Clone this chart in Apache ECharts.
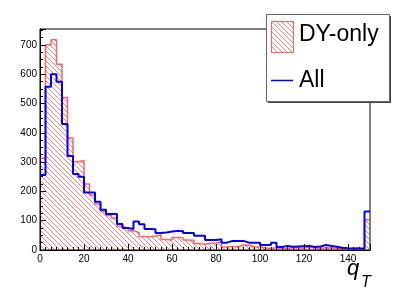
<!DOCTYPE html>
<html>
<head>
<meta charset="utf-8">
<script src="https://cdn.jsdelivr.net/npm/echarts@6/dist/echarts.min.js"></script>
<style>
html,body{margin:0;padding:0;background:#fff;}
#chart{width:411px;height:295px;}
</style>
</head>
<body>
<div id="chart"></div>
<script>
// ---- data ----
const binWidth = 2.5;
const xMin = 0;
const xMax = 150;
const yMax = 754;
const allCounts = [
  256, 557, 600, 574, 430, 321, 259, 250, 196, 196,
  165, 137, 123, 123, 89, 75, 72, 97, 88, 72,
  71, 58, 60, 63, 65, 65, 58, 58, 49, 49,
  34, 34, 37, 25, 31, 31, 31, 25, 25, 25,
  17, 17, 25, 10, 14, 11, 12, 13, 14, 10,
  12, 17, 14, 11, 8, 6, 5, 6, 4, 131
];
const dyOnlyCounts = [
  313, 700, 717, 634, 520, 382, 301, 305, 225, 188,
  157, 131, 118, 109, 80, 75, 66, 60, 46, 45,
  48, 51, 36, 34, 43, 42, 34, 33, 22, 20,
  23, 24, 28, 10, 12, 11, 17, 16, 11, 10,
  7, 6, 8, 6, 5, 8, 7, 6, 9, 7,
  6, 8, 7, 6, 5, 4, 5, 4, 3, 103
];
const legendLabels = ['DY-only', 'All'];
const xTitle = 'q';
const xTitleSub = 'T';

// ---- helpers ----
function histPoints(counts) {
  const pts = counts.map((v, i) => [xMin + i * binWidth, v]);
  pts.push([xMin + counts.length * binWidth, counts[counts.length - 1]]);
  return pts;
}
function makeHatch() {
  const c = document.createElement('canvas');
  c.width = 5; c.height = 5;
  const ctx = c.getContext('2d');
  ctx.strokeStyle = 'rgba(255,0,0,0.5)';
  ctx.lineWidth = 1;
  ctx.beginPath();
  ctx.moveTo(-1, -1); ctx.lineTo(6, 6);
  ctx.moveTo(4, -1); ctx.lineTo(6, 1);
  ctx.moveTo(-1, 4); ctx.lineTo(1, 6);
  ctx.stroke();
  return c;
}
const hatch = makeHatch();
const FONT = 'Liberation Sans';

const chart = echarts.init(document.getElementById('chart'), null, {renderer: 'canvas'});
chart.setOption({
  animation: false,
  backgroundColor: '#fff',
  grid: {left: 40, right: 41, top: 29, bottom: 45, show: true, borderColor: '#000', borderWidth: 1, backgroundColor: 'transparent'},
  xAxis: {
    type: 'value', min: xMin, max: xMax, interval: 20,
    axisLine: {show: true, lineStyle: {color: '#000', width: 1}},
    axisTick: {show: true, inside: true, length: 6, lineStyle: {color: '#000'}},
    minorTick: {show: true, splitNumber: 8, length: 3, lineStyle: {color: '#000'}},
    splitLine: {show: false},
    axisLabel: {color: '#000', fontFamily: FONT, fontSize: 10, margin: 4, showMaxLabel: false}
  },
  yAxis: {
    type: 'value', min: 0, max: yMax, interval: 100,
    axisLine: {show: true, lineStyle: {color: '#000', width: 1}},
    axisTick: {show: true, inside: true, length: 6, lineStyle: {color: '#000'}},
    minorTick: {show: true, splitNumber: 4, length: 3, lineStyle: {color: '#000'}},
    splitLine: {show: false},
    axisLabel: {color: '#000', fontFamily: FONT, fontSize: 10, margin: 3, showMaxLabel: false}
  },
  series: [
    {
      name: legendLabels[0], type: 'line', step: 'end', symbol: 'none',
      data: histPoints(dyOnlyCounts),
      lineStyle: {color: 'rgba(255,0,0,0.6)', width: 1.5},
      areaStyle: {color: {image: hatch, repeat: 'repeat'}, opacity: 1},
      z: 2
    },
    {
      name: legendLabels[1], type: 'line', step: 'end', symbol: 'none',
      data: histPoints(allCounts),
      lineStyle: {color: '#0000ff', width: 2},
      z: 3
    }
  ],
  graphic: [
    {type: 'rect', z: 100, shape: {x: 268, y: 16, width: 123, height: 87}, style: {fill: '#444'}},
    {type: 'rect', z: 101, shape: {x: 266.5, y: 14.5, width: 123, height: 87}, style: {fill: '#fff', stroke: '#666', lineWidth: 1}},
    {type: 'rect', z: 102, shape: {x: 271.5, y: 21.5, width: 22, height: 31}, style: {fill: {image: hatch, repeat: 'repeat'}, stroke: 'rgba(255,0,0,0.6)', lineWidth: 1}},
    {type: 'text', z: 102, style: {text: legendLabels[0], x: 299, y: 35, fontFamily: FONT, fontSize: 23, fill: '#000', verticalAlign: 'middle', align: 'left'}},
    {type: 'line', z: 102, shape: {x1: 271, y1: 80.5, x2: 293, y2: 80.5}, style: {stroke: '#0000ff', lineWidth: 1.5}},
    {type: 'text', z: 102, style: {text: legendLabels[1], x: 299, y: 81, fontFamily: FONT, fontSize: 23, fill: '#000', verticalAlign: 'middle', align: 'left'}},
    {type: 'text', z: 102, style: {text: xTitle, x: 347, y: 269, fontFamily: FONT, fontStyle: 'italic', fontSize: 22, fill: '#000', verticalAlign: 'middle', align: 'left'}},
    {type: 'text', z: 102, style: {text: xTitleSub, x: 361, y: 282.5, fontFamily: FONT, fontStyle: 'italic', fontSize: 16, fill: '#000', verticalAlign: 'middle', align: 'left'}}
  ]
});
</script>
</body>
</html>
